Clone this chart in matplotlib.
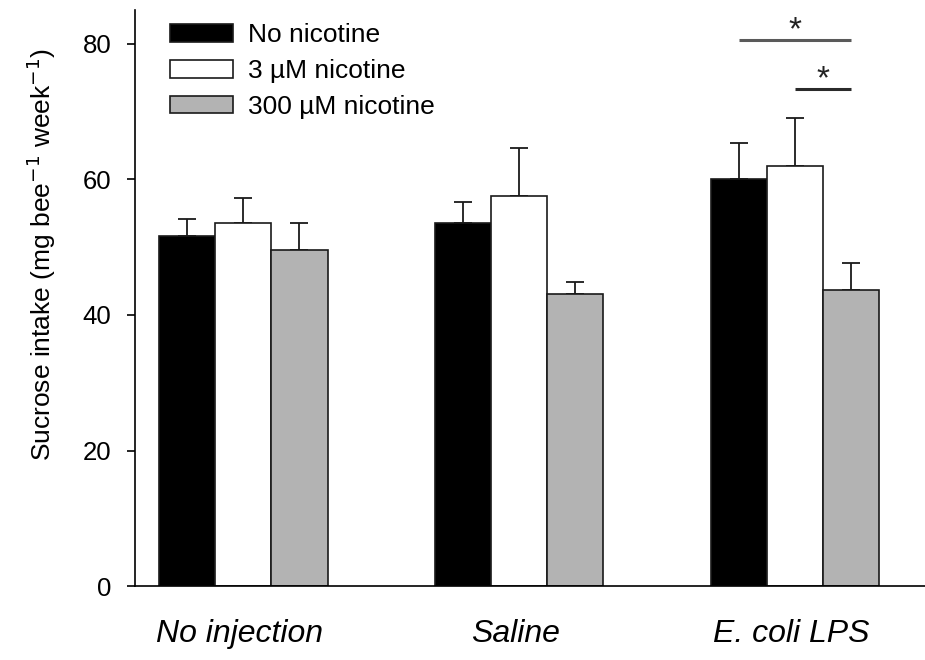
import numpy as np
import matplotlib
matplotlib.use("Agg")
import matplotlib.pyplot as plt

plt.rcParams['font.family'] = ['Liberation Sans', 'DejaVu Sans']

# data
groups = ['No injection', 'Saline', 'E. coli LPS']
series = ['No nicotine', '3 \u00b5M nicotine', '300 \u00b5M nicotine']
means = [
    [51.6, 53.5, 60.1],   # no nicotine
    [53.5, 57.6, 62.0],   # 3 uM
    [49.6, 43.1, 43.7],   # 300 uM
]
sems = [
    [2.5, 3.2, 5.2],
    [3.8, 7.1, 7.1],
    [3.9, 1.8, 3.9],
]
colors = ['black', 'white', '#b3b3b3']
yticks = [0, 20, 40, 60, 80]

# significance brackets: (group, bar_from, bar_to, y)
sig = [(2, 0, 2, 80.6, '#5a5a5a'), (2, 1, 2, 73.3, '#2a2a2a')]

fig = plt.figure(figsize=(9.25, 6.6), dpi=100)
ax = fig.add_axes([0.146, 0.112, 0.854, 0.873])

x = np.arange(len(groups))
w = 0.203
for i, s in enumerate(series):
    pos = x + (i - 1) * w
    ax.bar(pos, means[i], w, color=colors[i], edgecolor='#1a1a1a',
           linewidth=1.2, label=s, zorder=2)
    ax.errorbar(pos, means[i], yerr=[np.zeros(len(groups)), sems[i]],
                fmt='none', ecolor='#1a1a1a', elinewidth=1.3, capsize=6.5,
                capthick=1.3, zorder=1)

for g, a, b, yv, c in sig:
    xa = g + (a - 1) * w
    xb = g + (b - 1) * w
    ax.plot([xa, xb], [yv, yv], color=c, lw=2.2, solid_capstyle='butt')
    ax.text((xa + xb) / 2, yv + 0.1, '*', ha='center', va='baseline',
            fontsize=24, color='#222222')

ax.set_xlim(-0.393, 2.47)
ax.set_ylim(0, 85)
ax.set_yticks(yticks)
ax.set_xticks(x - 0.015)
ax.set_xticklabels(groups, fontsize=23, style='italic')
ax.tick_params(axis='x', length=0, pad=24)
ax.tick_params(axis='y', length=6, width=1.2, pad=11, labelsize=18.5)
for sp in ['top', 'right']:
    ax.spines[sp].set_visible(False)
for sp in ['left', 'bottom']:
    ax.spines[sp].set_linewidth(1.2)

ax.set_ylabel('Sucrose intake (mg bee$^{-1}$ week$^{-1}$)', fontsize=19)
ax.yaxis.set_label_coords(-0.097, 0.575)

ax.legend(loc='upper left', bbox_to_anchor=(0.044, 0.977), frameon=False,
          fontsize=19, handlelength=2.4, handleheight=0.65,
          handletextpad=0.58, labelspacing=0.45, borderpad=0, borderaxespad=0)

fig.savefig('out.png', dpi=100)
